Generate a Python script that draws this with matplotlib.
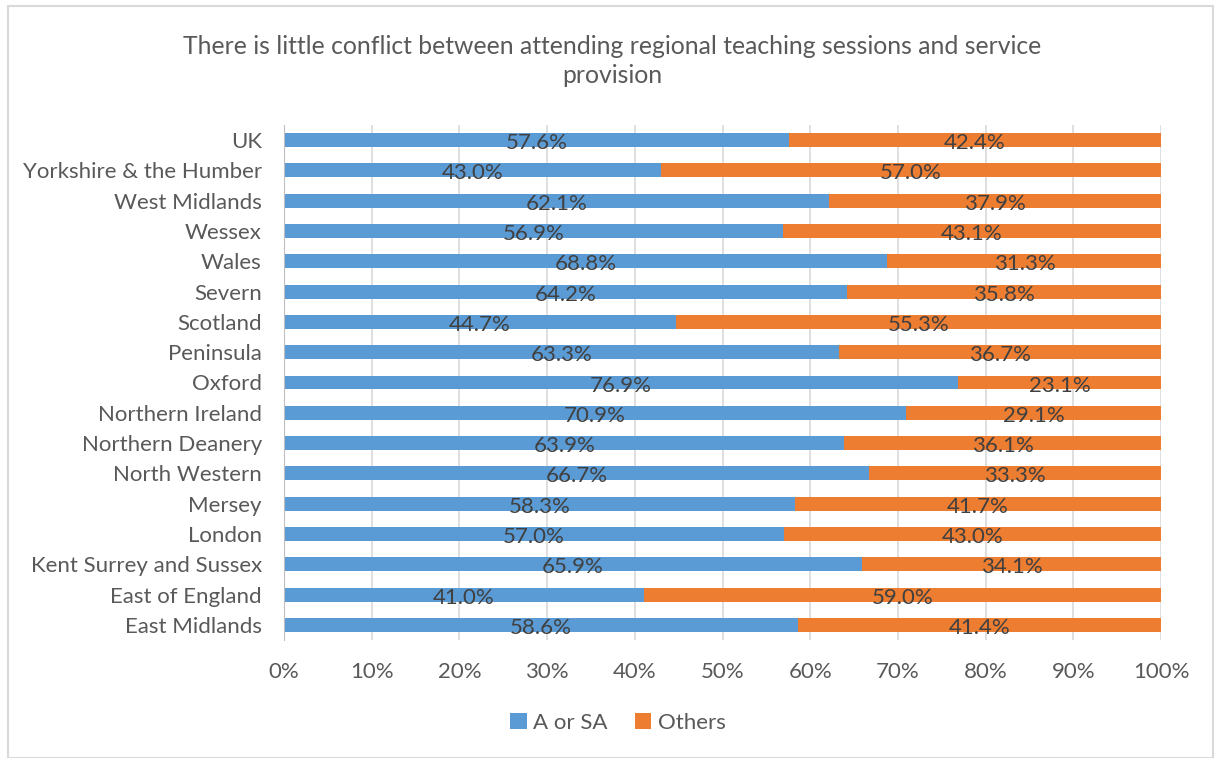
import matplotlib.pyplot as plt
from matplotlib.patches import Rectangle

plt.rcParams['font.family'] = ['Lato', 'DejaVu Sans']

# regions listed bottom to top
regions = ["East Midlands", "East of England", "Kent Surrey and Sussex", "London",
           "Mersey", "North Western", "Northern Deanery", "Northern Ireland",
           "Oxford", "Peninsula", "Scotland", "Severn", "Wales", "Wessex",
           "West Midlands", "Yorkshire & the Humber", "UK"]
a_or_sa = [58.6, 41.0, 65.9, 57.0, 58.3, 66.7, 63.9, 70.9, 76.9, 63.3,
           44.7, 64.2, 68.8, 56.9, 62.1, 43.0, 57.6]
others = [41.4, 59.0, 34.1, 43.0, 41.7, 33.3, 36.1, 29.1, 23.1, 36.7,
          55.3, 35.8, 31.3, 43.1, 37.9, 57.0, 42.4]

blue = "#5B9BD5"
orange = "#ED7D31"
grey_txt = "#595959"

fig = plt.figure(figsize=(12.15, 7.58), dpi=100)
ax = fig.add_axes([284 / 1215, 1 - 640 / 758, (1161 - 284) / 1215, 515 / 758])

y = range(len(regions))
ax.barh(y, a_or_sa, height=0.46, color=blue, label="A or SA", zorder=2)
ax.barh(y, others, left=a_or_sa, height=0.46, color=orange, label="Others", zorder=2)

for i, (a, o) in enumerate(zip(a_or_sa, others)):
    ax.text(a / 2, i - 0.1, f"{a:.1f}%", ha="center", va="center",
            fontsize=16, color="#404040", zorder=3)
    ax.text(a + o / 2, i - 0.1, f"{o:.1f}%", ha="center", va="center",
            fontsize=16, color="#404040", zorder=3)

ax.set_xlim(0, 100)
ax.set_ylim(-0.5, len(regions) - 0.5)
ax.set_xticks(range(0, 101, 10))
ax.set_xticklabels([f"{t}%" for t in range(0, 101, 10)])
ax.set_yticks(list(y))
ax.set_yticklabels(regions)
ax.tick_params(axis="both", length=0, labelsize=16, labelcolor=grey_txt)
ax.tick_params(axis="x", pad=16)
ax.tick_params(axis="y", pad=16)
ax.grid(axis="x", color="#D9D9D9", linewidth=1.2, zorder=0)
for s in ["top", "right", "bottom"]:
    ax.spines[s].set_visible(False)
ax.spines["left"].set_color("#BFBFBF")
ax.spines["left"].set_zorder(4)

fig.text(612 / 1215, 1 - 61 / 758,
         "There is little conflict between attending regional teaching sessions and service\nprovision",
         ha="center", va="center", fontsize=17.8, color=grey_txt, linespacing=1.3)

fig.legend(loc="center", bbox_to_anchor=(618 / 1215, 1 - 723 / 758), ncol=2,
           frameon=False, fontsize=16, labelcolor=grey_txt, handlelength=0.75,
           handleheight=0.75, handletextpad=0.3, columnspacing=1.2)

# chart area border
fig.patches.append(Rectangle((8 / 1215, 0.0), 1205 / 1215, 1 - 6 / 758,
                             transform=fig.transFigure, fill=False,
                             edgecolor="#D9D9D9", linewidth=1.5))

fig.savefig("out.png", dpi=100)
